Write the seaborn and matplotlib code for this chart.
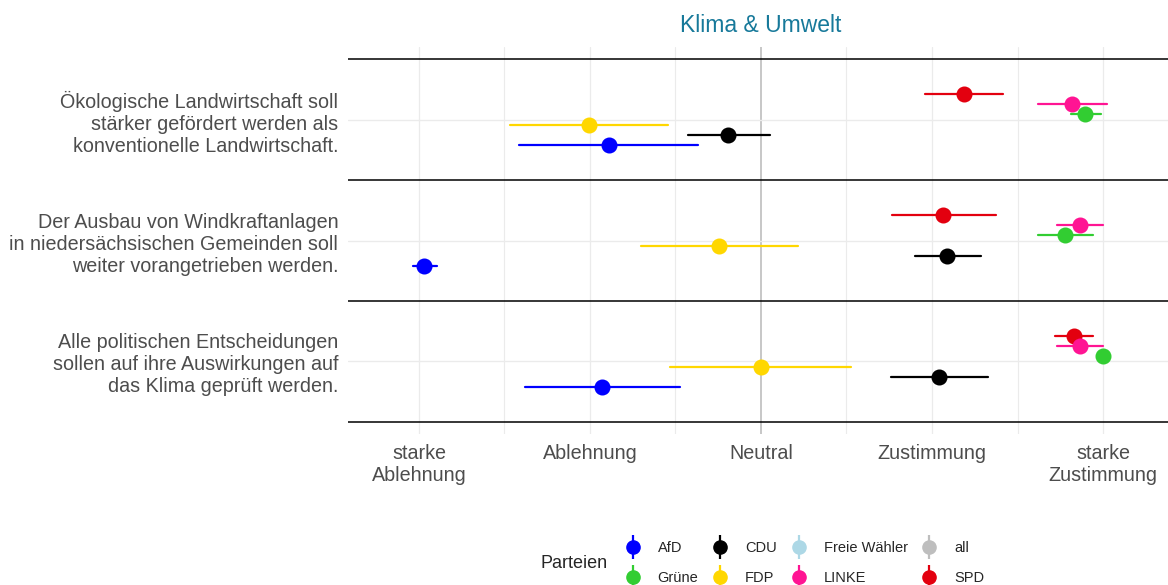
import numpy as np
import pandas as pd
import matplotlib
matplotlib.use("Agg")
import matplotlib.pyplot as plt
from matplotlib.lines import Line2D
import seaborn as sns

# statements (top to bottom)
questions = [
    "Ökologische Landwirtschaft soll\nstärker gefördert werden als\nkonventionelle Landwirtschaft.",
    "Der Ausbau von Windkraftanlagen\nin niedersächsischen Gemeinden soll\nweiter vorangetrieben werden.",
    "Alle politischen Entscheidungen\nsollen auf ihre Auswirkungen auf\ndas Klima geprüft werden.",
]
scale_labels = ["starke\nAblehnung", "Ablehnung", "Neutral", "Zustimmung", "starke\nZustimmung"]
scale_values = [-2, -1, 0, 1, 2]

parties = ["AfD", "CDU", "FDP", "Grüne", "LINKE", "SPD"]
legend_parties = ["AfD", "Grüne", "CDU", "FDP", "Freie Wähler", "LINKE", "all", "SPD"]

# mean answer and interval per party, one value per statement
means = {
    "AfD":   [-0.889, -1.971, -0.930],
    "CDU":   [-0.193, 1.088, 1.041],
    "FDP":   [-1.006, -0.246, 0.0],
    "Grüne": [1.895, 1.778, 2.0],
    "LINKE": [1.819, 1.865, 1.865],
    "SPD":   [1.187, 1.064, 1.830],
}
lower = {
    "AfD":   [-1.415, -2.035, -1.380],
    "CDU":   [-0.427, 0.901, 0.760],
    "FDP":   [-1.468, -0.702, -0.532],
    "Grüne": [1.813, 1.620, 2.0],
    "LINKE": [1.620, 1.731, 1.731],
    "SPD":   [0.959, 0.766, 1.719],
}
upper = {
    "AfD":   [-0.368, -1.895, -0.474],
    "CDU":   [0.053, 1.287, 1.327],
    "FDP":   [-0.544, 0.216, 0.526],
    "Grüne": [1.988, 1.942, 2.0],
    "LINKE": [2.023, 2.0, 2.0],
    "SPD":   [1.415, 1.374, 1.942],
}

colors = {
    "AfD": "#0000FF", "CDU": "#000000", "FDP": "#FFD700", "Grüne": "#32CD32",
    "LINKE": "#FF1493", "SPD": "#E3000F", "Freie Wähler": "#ADD8E6", "all": "#BEBEBE",
}

# long table: lower / mean / upper per party and statement,
# median gives the point, the 0-100 percentile interval gives the bar
rows = []
for p in parties:
    for q, lo, m, hi in zip(questions, lower[p], means[p], upper[p]):
        for v in (lo, m, hi):
            rows.append({"frage": q, "partei": p, "wert": v})
df = pd.DataFrame(rows)

sns.set_style("white")
plt.rcParams["font.family"] = ["Liberation Sans", "DejaVu Sans"]

fig = plt.figure(figsize=(11.68, 5.85), dpi=100)
ax = fig.add_axes([348 / 1168, 1 - 434 / 585, 820 / 1168, 387 / 585])

# grid first so the points sit on top
for x in scale_values:
    ax.axvline(x, color="#BEBEBE" if x == 0 else "#EBEBEB", lw=1.2 if x == 0 else 0.9, zorder=0)
for x in [-1.5, -0.5, 0.5, 1.5]:
    ax.axvline(x, color="#EBEBEB", lw=0.8, zorder=0)
for y in range(len(questions)):
    ax.axhline(y, color="#EBEBEB", lw=1.0, zorder=0)
for y in [-0.5, 0.5, 1.5, 2.5]:
    ax.axhline(y, color="black", lw=1.1, zorder=1)

sns.pointplot(
    data=df, x="wert", y="frage", hue="partei", order=questions,
    hue_order=parties[::-1], palette=colors, estimator="median",
    errorbar=("pi", 100), dodge=0.42, linestyle="none", marker="o",
    markersize=9.5, err_kws={"linewidth": 1.6}, legend=False, orient="h", ax=ax,
)

ax.set_xlim(-2.415, 2.38)
ax.set_ylim(2.6, -0.6)
ax.set_xticks(scale_values)
ax.set_xticklabels(scale_labels)
ax.set_yticks(range(len(questions)))
ax.set_yticklabels(questions)
ax.set_xlabel("")
ax.set_ylabel("")
ax.tick_params(length=0, labelsize=14.2, labelcolor="#4D4D4D", pad=7)
for s in ax.spines.values():
    s.set_visible(False)

fig.text(761 / 1168, 1 - 25 / 585, "Klima & Umwelt", ha="center", va="center",
         fontsize=16.5, color="#17799A")

handles = [
    (Line2D([], [], color=colors[p], marker="|", markersize=17, markeredgewidth=1.6, linestyle="none"),
     Line2D([], [], color=colors[p], marker="o", markersize=9.5, linestyle="none"))
    for p in legend_parties
]
fig.legend(handles, legend_parties, loc="center", bbox_to_anchor=(805 / 1168, 1 - 563 / 585),
           ncol=4, frameon=False, fontsize=10.5, handlelength=1.0, handletextpad=1.2,
           columnspacing=1.0, labelspacing=1.05)
fig.text(540 / 1168, 1 - 563 / 585, "Parteien", ha="left", va="center", fontsize=13)

fig.savefig("out.png", dpi=100)
